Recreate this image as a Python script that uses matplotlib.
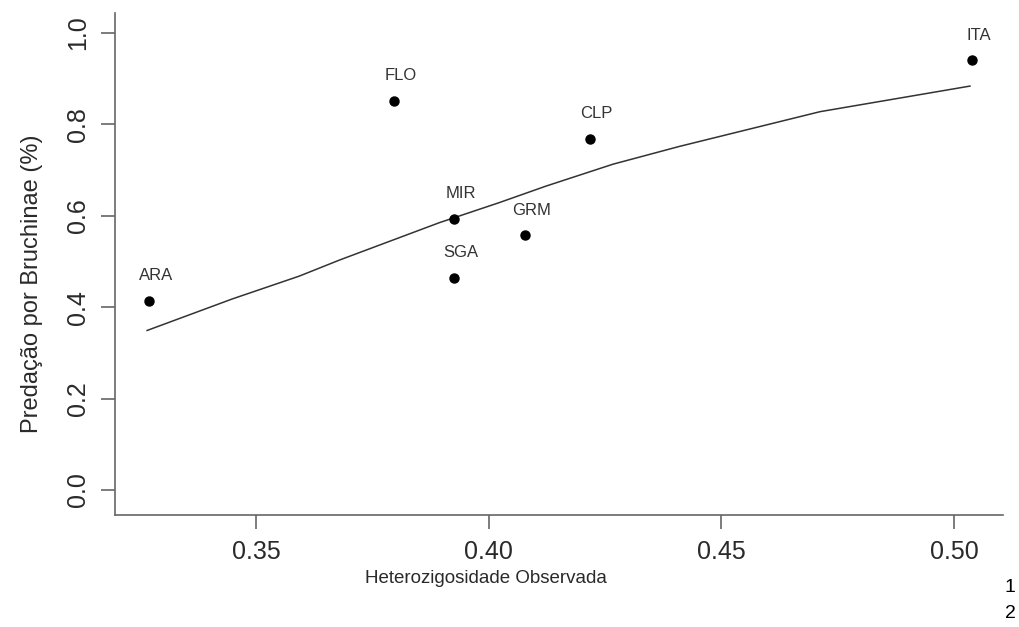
import matplotlib
matplotlib.use("Agg")
import matplotlib.pyplot as plt

plt.rcParams['font.family'] = ['Liberation Sans', 'DejaVu Sans']

# populacoes
sites = ['ARA', 'FLO', 'MIR', 'SGA', 'GRM', 'CLP', 'ITA']
het_obs = [0.327, 0.3797, 0.3926, 0.3926, 0.4077, 0.4217, 0.5038]
predacao = [0.414, 0.852, 0.594, 0.464, 0.557, 0.769, 0.941]

# curva ajustada
curva_x = [0.3266, 0.3449, 0.3593, 0.3679, 0.3894, 0.4023, 0.4123, 0.4267, 0.4410, 0.4712, 0.5034]
curva_y = [0.349, 0.418, 0.468, 0.503, 0.585, 0.629, 0.665, 0.713, 0.752, 0.828, 0.884]

xticks = [0.35, 0.40, 0.45, 0.50]
yticks = [0.0, 0.2, 0.4, 0.6, 0.8, 1.0]

fig = plt.figure(figsize=(10.19, 6.27), dpi=100)
ax = fig.add_axes([115 / 1019, 112 / 627, (1003 - 115) / 1019, (515 - 13) / 627])

ax.plot(curva_x, curva_y, color='#333333', lw=1.1)
ax.plot(het_obs, predacao, 'o', color='black', ms=6.5)
for s, x, y in zip(sites, het_obs, predacao):
    ax.annotate(s, (x, y), xytext=(7, 25), textcoords='offset pixels',
                ha='center', va='center', fontsize=12, color='#333333')

ax.set_xlim(0.3197, 0.5105)
ax.set_ylim(-0.055, 1.044)
ax.set_xticks(xticks)
ax.set_xticklabels(['%.2f' % v for v in xticks])
ax.set_yticks(yticks)
ax.set_yticklabels(['%.1f' % v for v in yticks], rotation=90, va='center')

for sp in ['top', 'right']:
    ax.spines[sp].set_visible(False)
for sp in ['left', 'bottom']:
    ax.spines[sp].set_color('#666666')
    ax.spines[sp].set_linewidth(1.2)
ax.tick_params(axis='both', length=10, width=1.2, color='#666666',
               labelsize=18, labelcolor='#2a2a2a')
ax.tick_params(axis='x', pad=8)
ax.tick_params(axis='y', pad=8)

ax.set_xlabel('Heterozigosidade Observada', fontsize=13.5, color='#2a2a2a')
ax.set_ylabel('Predação por Bruchinae (%)', fontsize=17, color='#2a2a2a')
ax.xaxis.label.set_va('center')
ax.yaxis.label.set_va('center')
ax.xaxis.set_label_coords(0.418, -0.127)
ax.yaxis.set_label_coords(-0.093, 0.46)

fig.text(1005 / 1019, 1 - 587 / 627, '1', fontsize=14, va='center', ha='left')
fig.text(1005 / 1019, 1 - 614 / 627, '2', fontsize=14, va='center', ha='left')

fig.savefig('out.png', dpi=100)
